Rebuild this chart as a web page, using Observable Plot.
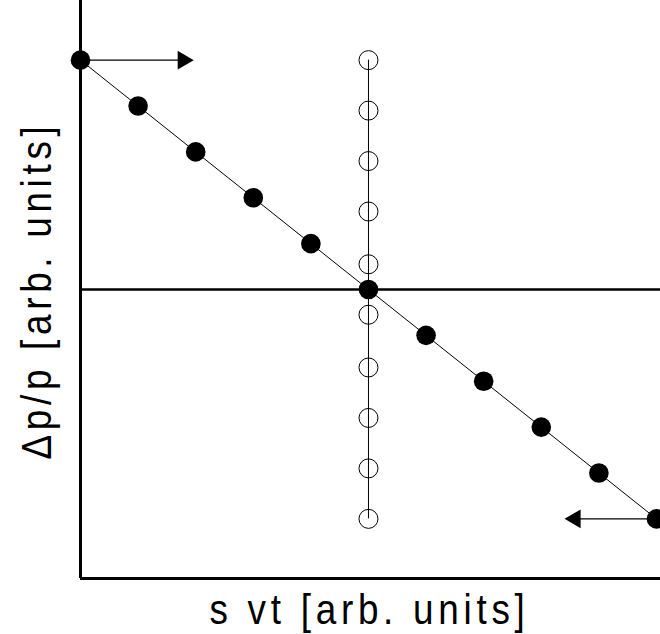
<!DOCTYPE html>
<html>
<head>
<meta charset="utf-8">
<script src="https://cdn.jsdelivr.net/npm/d3@7"></script>
<script src="https://cdn.jsdelivr.net/npm/@observablehq/plot@0.6"></script>
<style>
  html, body { margin: 0; padding: 0; background: #fff; }
</style>
</head>
<body>
<div id="chart"></div>
<script>
// Filled points on the diagonal (s·vt, Δp/p)
const filledX = [0, 1, 2, 3, 4, 5, 6, 7, 8, 9, 10];
const filledY = [5, 4, 3, 2, 1, 0, -1, -2, -3, -4, -5];
// Open points on the vertical line
const openX = [5, 5, 5, 5, 5, 5, 5, 5, 5, 5];
const openY = [5, 3.9, 2.8, 1.7, 0.55, -0.55, -1.7, -2.8, -3.9, -5];
// Arrows: start, end (tip) and y
const arrowX1 = [0, 10];
const arrowX2 = [1.78, 8.59];
const arrowY = [5, -5];
const arrowDir = [90, -90];
// Axis labels
const xLabel = "s vt [arb. units]";
const yLabel = "Δp/p [arb. units]";
const labelLengths = [320, 338];

const filled = filledX.map((x, i) => ({x, y: filledY[i]}));
const open = openX.map((x, i) => ({x, y: openY[i]}));
const arrows = arrowX1.map((x1, i) => ({x1, x2: arrowX2[i], y: arrowY[i], r: arrowDir[i]}));

const font = "'Liberation Sans', Arial, Helvetica, sans-serif";

const plot = Plot.plot({
  width: 660,
  height: 634,
  marginLeft: 80,
  marginRight: 0,
  marginTop: 0,
  marginBottom: 56,
  x: {domain: [0, 10.07], axis: null},
  y: {domain: [-6.3, 6.3], axis: null},
  style: {background: "#fff", letterSpacing: "5.5px", fontFamily: font},
  marks: [
    Plot.ruleY([0], {stroke: "#000", strokeWidth: 2.5}),
    Plot.ruleX([openX[0]], {y1: openY[openY.length - 1], y2: openY[0], stroke: "#000", strokeWidth: 1}),
    Plot.line(filled, {x: "x", y: "y", stroke: "#000", strokeWidth: 1}),
    Plot.link(arrows, {x1: "x1", x2: "x2", y1: "y", y2: "y", stroke: "#000", strokeWidth: 1.2}),
    Plot.dot(arrows, {x: "x2", y: "y", symbol: "triangle", r: 6.9, rotate: "r", fill: "#000", stroke: "none"}),
    Plot.dot(open, {x: "x", y: "y", r: 9.5, fill: "none", stroke: "#000", strokeWidth: 1}),
    Plot.dot(filled, {x: "x", y: "y", r: 9.8, fill: "#000", stroke: "none"}),
    Plot.ruleX([0], {stroke: "#000", strokeWidth: 3}),
    Plot.ruleY([-6.3], {stroke: "#000", strokeWidth: 3}),
    Plot.text([xLabel], {text: d => d, frameAnchor: "bottom", lineAnchor: "bottom", textAnchor: "middle", dx: -1, dy: 45, fontSize: 43, fontFamily: font, fill: "#000"}),
    Plot.text([yLabel], {text: d => d, frameAnchor: "left", lineAnchor: "bottom", textAnchor: "middle", rotate: -90, dx: -30, dy: 1, fontSize: 43, fontFamily: font, fill: "#000"})
  ]
});
// condense the label glyphs to the reference's widths
d3.select(plot).selectAll("text").each(function(d, i) {
  const len = labelLengths[i];
  if (len) d3.select(this).attr("textLength", len).attr("lengthAdjust", "spacingAndGlyphs");
});
document.getElementById("chart").appendChild(plot);
</script>
</body>
</html>
